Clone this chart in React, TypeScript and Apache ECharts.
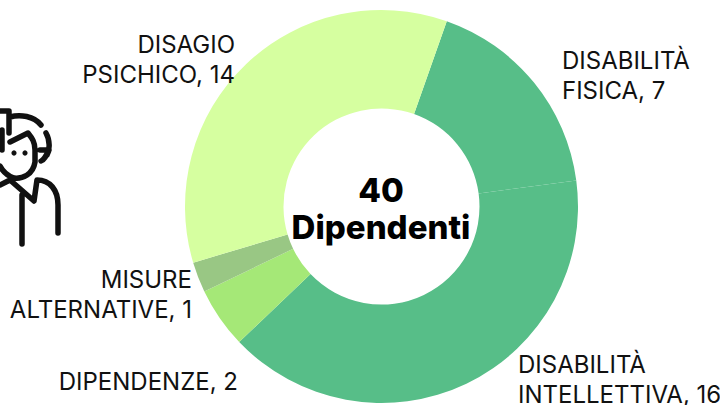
import React, { useEffect, useRef } from "react";
import * as echarts from "echarts";

const categories = ["DISABILITÀ\nFISICA, 7", "DISABILITÀ\nINTELLETTIVA, 16", "DIPENDENZE, 2", "MISURE\nALTERNATIVE, 1", "DISAGIO\nPSICHICO, 14"];
const values = [7, 16, 2, 1, 14];
const colors = ["#57BE88", "#57BE88", "#A5E877", "#99C784", "#D6FFA0"];
const centerLines = ["40", "Dipendenti"];
const labelSpots: [number, number, "left" | "right"][] = [
  [562, 75, "left"],
  [518, 379, "left"],
  [238, 381, "right"],
  [192, 294, "right"],
  [235, 59, "right"],
];

const iconPath =
  "M0 111 L9 111 L9 133 M10 117 C20 114 34 116 41 125 M2 130 L2 150 M10 142 L28 133 C32 138 35 142 35 150 L35 162 C33 175 22 179 14 178 C8 176 3 172 0 166 M40 150 L49 150 C46 156 44 160 41 161 M46 133 C50 140 50 150 47 155 M0 185 L10 180 L34 201 L37 180 C50 180 58 190 58 205 L58 233 M22 195 L22 244";
echarts.graphic.registerShape("personIcon", echarts.graphic.extendPath(iconPath, {}) as any);

export default function App() {
  const ref = useRef<HTMLDivElement>(null);
  useEffect(() => {
    document.body.style.margin = "0";
    const chart = echarts.init(ref.current!, null, { renderer: "svg" });
    chart.setOption({
      animation: false,
      backgroundColor: "#ffffff",
      textStyle: { fontFamily: "Inter" },
      graphic: [
        { type: "personIcon", x: 0, y: 0, style: { fill: "none", stroke: "#111111", lineWidth: 5.5, lineCap: "round", lineJoin: "round" } },
        { type: "circle", shape: { cx: 14, cy: 153, r: 2.6 }, style: { fill: "#111111" } },
        { type: "circle", shape: { cx: 25, cy: 153, r: 2.6 }, style: { fill: "#111111" } },
        { type: "text", style: { x: 381, y: 190, text: centerLines[0], align: "center", verticalAlign: "middle", font: "800 33px Inter", fill: "#000000" } },
        { type: "text", style: { x: 381, y: 227, text: centerLines[1], align: "center", verticalAlign: "middle", font: "800 33px Inter", fill: "#000000" } },
      ],
      series: [
        {
          type: "pie",
          center: [381.5, 206.5],
          radius: [98, 196.5],
          startAngle: 70.6,
          clockwise: true,
          avoidLabelOverlap: false,
          itemStyle: { borderWidth: 0 },
          label: { show: true, formatter: "{b}", fontFamily: "Inter", fontSize: 24, lineHeight: 30, color: "#111111" },
          labelLine: { show: false },
          labelLayout: (p: any) => ({
            x: labelSpots[p.dataIndex][0],
            y: labelSpots[p.dataIndex][1],
            align: labelSpots[p.dataIndex][2],
            verticalAlign: "middle",
          }),
          data: categories.map((name, i) => ({ name, value: values[i], itemStyle: { color: colors[i] } })),
        },
      ],
    });
    return () => chart.dispose();
  }, []);
  return <div ref={ref} style={{ width: 720, height: 405 }} />;
}
